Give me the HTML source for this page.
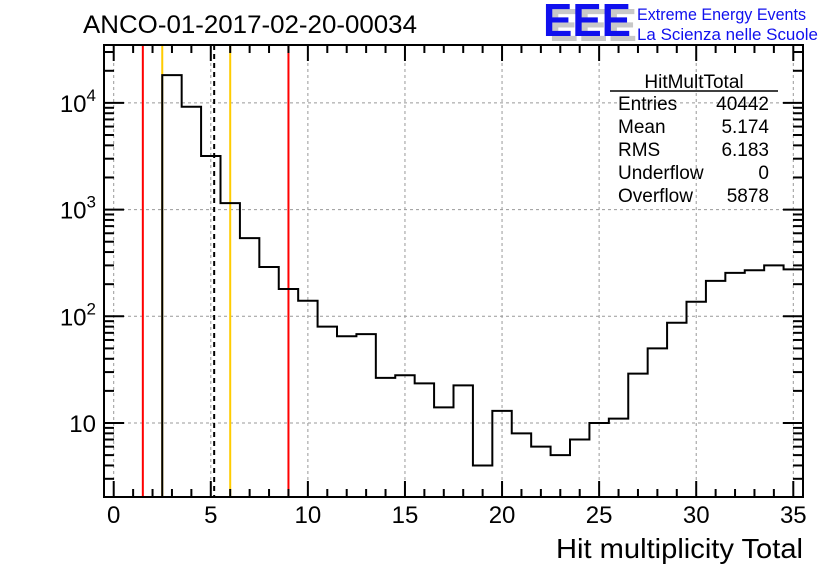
<!DOCTYPE html>
<html><head><meta charset="utf-8"><style>
body{margin:0;background:#fff;width:836px;height:572px;overflow:hidden}
svg{display:block;font-family:"Liberation Sans",sans-serif}
</style></head><body>
<svg id="c" width="836" height="572">
<text x="83" y="33" font-size="25" textLength="334" lengthAdjust="spacingAndGlyphs">ANCO-01-2017-02-20-00034</text>
<g>
<text x="549" y="41" font-size="46" font-weight="bold" fill="#c8c8c8" textLength="88" lengthAdjust="spacingAndGlyphs">EEE</text>
<text x="543" y="36" font-size="46" font-weight="bold" fill="#1010ee" textLength="88" lengthAdjust="spacingAndGlyphs">EEE</text>
<text x="637" y="20" font-size="17" fill="#1010ee" textLength="169" lengthAdjust="spacingAndGlyphs">Extreme Energy Events</text>
<text x="637" y="40" font-size="17" fill="#1010ee" textLength="181" lengthAdjust="spacingAndGlyphs">La Scienza nelle Scuole</text>
</g>
<text x="803" y="558" font-size="28" text-anchor="end" textLength="247" lengthAdjust="spacingAndGlyphs">Hit multiplicity Total</text>
<g id="plot"></g>
<g font-size="19">
<text x="694" y="88" text-anchor="middle">HitMultTotal</text>
<line x1="610" y1="91" x2="778" y2="91" stroke="#000" stroke-width="1.5"/>
<text x="618" y="110">Entries</text><text x="769" y="110" text-anchor="end">40442</text>
<text x="618" y="133">Mean</text><text x="769" y="133" text-anchor="end">5.174</text>
<text x="618" y="156">RMS</text><text x="769" y="156" text-anchor="end">6.183</text>
<text x="618" y="179">Underflow</text><text x="769" y="179" text-anchor="end">0</text>
<text x="618" y="202">Overflow</text><text x="769" y="202" text-anchor="end">5878</text>
</g>
</svg>
<script>
const bins=[3,4,5,6,7,8,9,10,11,12,13,14,15,16,17,18,19,20,21,22,23,24,25,26,27,28,29,30,31,32,33,34,35];
const counts=[18200,9200,3180,1150,540,290,180,140,80,65,68,26.5,28,23.5,14,22.5,4,13,8,6,5,7,10,11,29,50,87,137,215,255,270,300,275];
const xTicks=[0,5,10,15,20,25,30,35];
const yTicks=[10,100,1000,10000];
const yTickExp=["","2","3","4"];
const redLines=[1.5,9];
const orangeLines=[2.5,6];
const meanLine=[5.174];
const L=104,R=803,T=45,B=497,XMIN=-0.5,XMAX=35.5;
const X=v=>L+(v-XMIN)/(XMAX-XMIN)*(R-L);
const Y=v=>423-(Math.log10(v)-1)*106.7;
const NS="http://www.w3.org/2000/svg",g=document.getElementById('plot');
function mk(t,a,p){const e=document.createElementNS(NS,t);for(const k in a)e.setAttribute(k,a[k]);(p||g).appendChild(e);return e;}
xTicks.forEach(v=>{const e=mk('line',{x1:X(v),x2:X(v),y1:T,y2:B,stroke:'#999','stroke-dasharray':'3,3','stroke-width':1});

});
yTicks.forEach(v=>{const e=mk('line',{x1:L,x2:R,y1:Y(v),y2:Y(v),stroke:'#999','stroke-dasharray':'3,3','stroke-width':1});

});
function vline(v,c,dash,name){const e=mk('line',{x1:X(v),x2:X(v),y1:T,y2:B,stroke:c,'stroke-width':2});if(dash)e.setAttribute('stroke-dasharray',dash);

}
redLines.forEach(v=>vline(v,'#f00',null,'red-cut-line'));
orangeLines.forEach(v=>vline(v,'#fc0',null,'orange-cut-line'));
meanLine.forEach(v=>vline(v,'#000','5,4','mean-line'));
let d=`M${X(bins[0]-0.5)},${B}`;
bins.forEach((b,i)=>{const y=Math.min(B,Y(counts[i]));d+=`L${X(b-0.5)},${y}L${X(b+0.5)},${y}`;});
const h=mk('path',{d:d,fill:'none',stroke:'#000','stroke-width':2});


const f=mk('rect',{x:L,y:T,width:R-L,height:B-T,fill:'none',stroke:'#000','stroke-width':2});


for(let v=0;v<=35;v++){const len=v%5==0?16:8;
mk('line',{x1:X(v),x2:X(v),y1:B,y2:B-len,stroke:'#000','stroke-width':2});
mk('line',{x1:X(v),x2:X(v),y1:T,y2:T+len,stroke:'#000','stroke-width':2});}
xTicks.forEach(v=>{const t=mk('text',{x:X(v),y:523,'font-size':24,'text-anchor':'middle'});t.textContent=v;

});
for(let dec=1;dec<=10000;dec*=10)for(let m=1;m<10;m++){const v=dec*m;const y=Y(v);if(y<T||y>B)continue;const len=m==1?20:10;
mk('line',{x1:L,x2:L+len,y1:y,y2:y,stroke:'#000','stroke-width':2});
mk('line',{x1:R,x2:R-len,y1:y,y2:y,stroke:'#000','stroke-width':2});}
yTicks.forEach((v,i)=>{const t=mk('text',{x:96,y:Y(v)+9,'font-size':24,'text-anchor':'end'});


const a=mk('tspan',{},t);a.textContent='10';
if(yTickExp[i]){const s=mk('tspan',{dy:-11,'font-size':17},t);s.textContent=yTickExp[i];}});
</script>
</body></html>
